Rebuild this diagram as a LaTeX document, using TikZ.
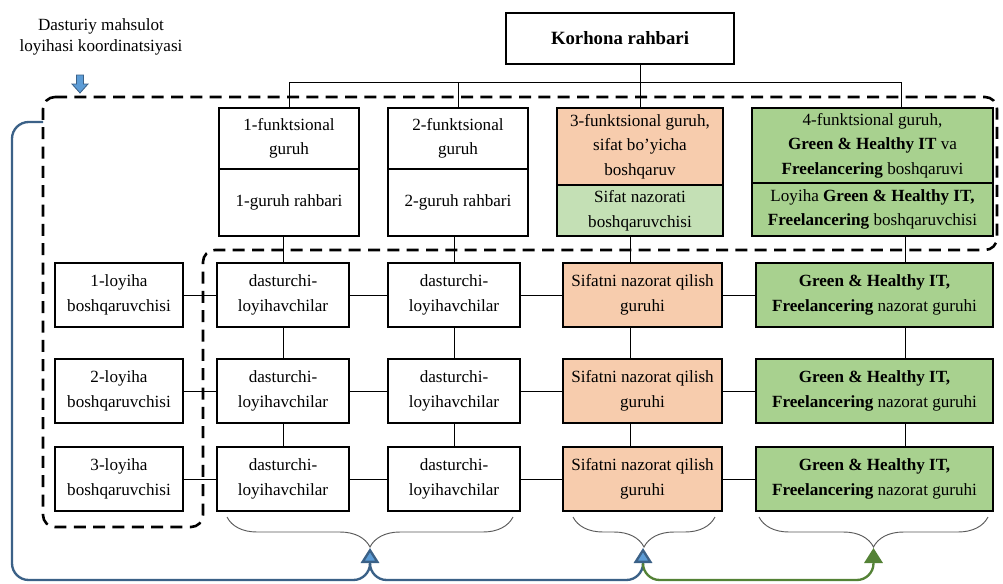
\documentclass[tikz,border=0pt]{standalone}
\usepackage{fontspec}
\setmainfont{Liberation Serif}
\usetikzlibrary{arrows.meta,decorations.pathreplacing}
\begin{document}
\begin{tikzpicture}[x=0.03cm,y=-0.03cm,
	box/.style={draw,line width=0.9pt,inner sep=0pt,align=center,font=\fontsize{14.6pt}{21pt}\selectfont},
	link/.style={line width=0.8pt},
	ramka/.style={line width=2.2pt,dash pattern=on 0.36cm off 0.22cm,rounded corners=0.36cm},
	qavs/.style={draw=black!65,line width=0.8pt,decorate,decoration={brace,amplitude=0.9cm}},
	kokyol/.style={draw=kokchiziq,line width=2pt,rounded corners=0.5cm},
	yashilyol/.style={draw=yashilchiziq,line width=2pt,rounded corners=0.5cm}]
		\definecolor{sifatrang}{rgb}{0.97,0.80,0.68}
		\definecolor{ochyashil}{rgb}{0.77,0.88,0.71}
		\definecolor{yashil}{rgb}{0.66,0.82,0.56}
		\definecolor{kokchiziq}{rgb}{0.23,0.38,0.53}
		\definecolor{kokuch}{rgb}{0.36,0.61,0.84}
		\definecolor{yashilchiziq}{rgb}{0.33,0.51,0.21}
		\useasboundingbox (0,0) rectangle (1003,583);
		\draw[ramka] (43,97) -- (997,97) -- (997,250) -- (203,250) -- (203,527) -- (43,527) -- cycle;
		\node[font=\fontsize{14.6pt}{18pt}\selectfont,align=center] (koord) at (101,37) {Dasturiy mahsulot\\loyihasi koordinatsiyasi};
		\filldraw[fill=kokuch,draw=kokchiziq,line width=0.7pt] (76.5,75) -- (83.5,75) -- (83.5,84) -- (88,84) -- (80,93) -- (72,84) -- (76.5,84) -- cycle;
		\node[box,minimum width=6.84cm,minimum height=1.53cm,font=\fontsize{16pt}{19pt}\selectfont\bfseries] (rahbar) at (620,38.5) {Korhona rahbari};
		\node[box,minimum width=4.2cm,minimum height=1.83cm] (f1a) at (289,138.5) {1-funktsional\\guruh};
		\node[box,minimum width=4.2cm,minimum height=2.01cm] (f1b) at (289,202.5) {1-guruh rahbari};
		\node[box,minimum width=4.2cm,minimum height=1.83cm] (f2a) at (458,138.5) {2-funktsional\\guruh};
		\node[box,minimum width=4.2cm,minimum height=2.01cm] (f2b) at (458,202.5) {2-guruh rahbari};
		\node[box,fill=sifatrang,minimum width=4.98cm,minimum height=2.31cm] (f3a) at (640,146.5) {3-funktsional guruh,\\sifat bo’yicha\\boshqaruv};
		\node[box,fill=ochyashil,minimum width=4.98cm,minimum height=1.53cm] (f3b) at (640,210.5) {Sifat nazorati\\boshqaruvchisi};
		\node[box,fill=yashil,line width=1.2pt,minimum width=7.23cm,minimum height=2.25cm] (f4a) at (872.5,145.5) {4-funktsional guruh,\\\textbf{Green \& Healthy IT} va\\\textbf{Freelancering} boshqaruvi};
		\node[box,fill=yashil,line width=1.2pt,minimum width=7.23cm,minimum height=1.59cm] (f4b) at (872.5,209.5) {Loyiha \textbf{Green \& Healthy IT,}\\\textbf{Freelancering} boshqaruvchisi};
		\node[box,minimum width=3.84cm,minimum height=1.92cm] (p1) at (119,295) {1-loyiha\\boshqaruvchisi};
		\node[box,minimum width=3.84cm,minimum height=1.92cm] (p2) at (119,391) {2-loyiha\\boshqaruvchisi};
		\node[box,minimum width=3.84cm,minimum height=1.92cm] (p3) at (119,479) {3-loyiha\\boshqaruvchisi};
		\node[box,minimum width=3.96cm,minimum height=1.92cm] (d1) at (283,295) {dasturchi-\\loyihavchilar};
		\node[box,minimum width=3.96cm,minimum height=1.92cm] (d2) at (283,391) {dasturchi-\\loyihavchilar};
		\node[box,minimum width=3.96cm,minimum height=1.92cm] (d3) at (283,479) {dasturchi-\\loyihavchilar};
		\node[box,minimum width=3.96cm,minimum height=1.92cm] (e1) at (454,295) {dasturchi-\\loyihavchilar};
		\node[box,minimum width=3.96cm,minimum height=1.92cm] (e2) at (454,391) {dasturchi-\\loyihavchilar};
		\node[box,minimum width=3.96cm,minimum height=1.92cm] (e3) at (454,479) {dasturchi-\\loyihavchilar};
		\node[box,fill=sifatrang,minimum width=4.77cm,minimum height=1.92cm] (s1) at (642.5,295) {Sifatni nazorat qilish\\guruhi};
		\node[box,fill=sifatrang,minimum width=4.77cm,minimum height=1.92cm] (s2) at (642.5,391) {Sifatni nazorat qilish\\guruhi};
		\node[box,fill=sifatrang,minimum width=4.77cm,minimum height=1.92cm] (s3) at (642.5,479) {Sifatni nazorat qilish\\guruhi};
		\node[box,fill=yashil,line width=1.2pt,minimum width=7.11cm,minimum height=1.92cm] (h1) at (874.5,295) {\textbf{Green \& Healthy IT,}\\\textbf{Freelancering} nazorat guruhi};
		\node[box,fill=yashil,line width=1.2pt,minimum width=7.11cm,minimum height=1.92cm] (h2) at (874.5,391) {\textbf{Green \& Healthy IT,}\\\textbf{Freelancering} nazorat guruhi};
		\node[box,fill=yashil,line width=1.2pt,minimum width=7.11cm,minimum height=1.92cm] (h3) at (874.5,479) {\textbf{Green \& Healthy IT,}\\\textbf{Freelancering} nazorat guruhi};
		\coordinate (shina) at (0,82);
		\draw[link] (f3a.north) -- (f3a.north |- rahbar.south);
		\draw[link] (f1a.north) -- (f1a.north |- shina) -- ([xshift=0.855cm]f4a.north |- shina) -- ([xshift=0.855cm]f4a.north);
		\draw[link] (f2a.north) -- (f2a.north |- shina);
		\draw[link] (d1.north) -- (d1.north |- f1b.south);
		\draw[link] (e1.north) -- (e1.north |- f2b.south);
		\draw[link] ([xshift=-0.3cm]f3b.south) -- ([xshift=-0.3cm]f3b.south |- s1.north);
		\draw[link] ([xshift=0.915cm]h1.north) -- ([xshift=0.915cm]h1.north |- f4b.south);
		\draw[link] (p1) -- (d1) -- (e1) -- (s1) -- (h1);
		\draw[link] (p2) -- (d2) -- (e2) -- (s2) -- (h2);
		\draw[link] (p3) -- (d3) -- (e3) -- (s3) -- (h3);
		\draw[link] (d1) -- (d2) -- (d3);
		\draw[link] (e1) -- (e2) -- (e3);
		\draw[link] ([xshift=-0.375cm]s1.south) -- ([xshift=-0.375cm]s2.north) ([xshift=-0.375cm]s2.south) -- ([xshift=-0.375cm]s3.north);
		\draw[link] ([xshift=0.915cm]h1.south) -- ([xshift=0.915cm]h2.north) ([xshift=0.915cm]h2.south) -- ([xshift=0.915cm]h3.north);
		\draw[qavs] (513,517) -- (227,517);
		\draw[qavs] (715,517) -- (573,517);
		\draw[qavs] (988,517) -- (759,517);
		\coordinate (uch1) at (370,548);
		\coordinate (uch2) at (643,548);
		\coordinate (uch3) at (873.5,548);
		\coordinate (koordchap) at (43,122);
		\draw[kokyol,-{Triangle[width=0.55cm,length=0.45cm,fill=kokuch]}] (koordchap) -- (12,122) -- (12,580) -- (uch1 |- 0,580) -- (uch1);
		\draw[kokyol,-{Triangle[width=0.55cm,length=0.45cm,fill=kokuch]}] ([yshift=-0.5cm]uch1) -- (uch1 |- 0,580) -- (uch2 |- 0,580) -- (uch2);
		\draw[yashilyol,-{Triangle[width=0.55cm,length=0.45cm,fill=yashilchiziq]}] ([yshift=-0.5cm]uch2) -- (uch2 |- 0,580) -- (uch3 |- 0,580) -- (uch3);
	\end{tikzpicture}
\end{document}
